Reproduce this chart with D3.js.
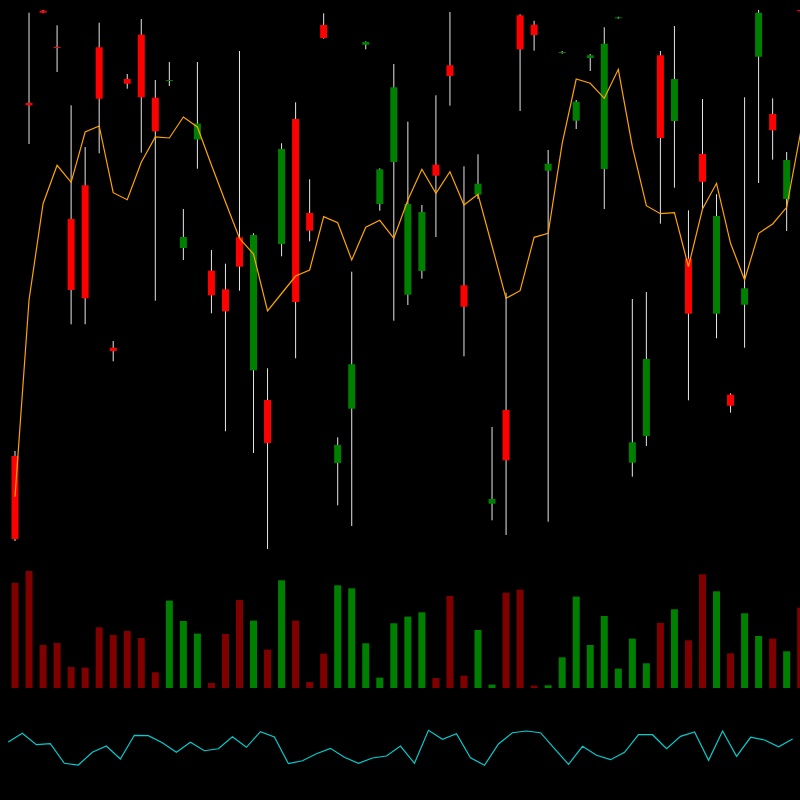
<!DOCTYPE html>
<html>
<head>
<meta charset="utf-8">
<script src="https://cdn.jsdelivr.net/npm/d3@7"></script>
<style>
html,body{margin:0;padding:0;background:#000;}
svg{display:block;}
</style>
</head>
<body>
<svg id="chart" width="800" height="800"></svg>
<script>
// ---- data ----
const opens  = [109.4,144.7,153.93,150.3,133.1,136.47,150.27,120.23,147.1,151.53,145.23,146.9,130.2,141.05,127.93,126.07,131.27,117.97,115.0,130.6,143.1,133.7,152.5,108.7,114.13,150.53,134.6,138.8,125.53,127.9,138.53,148.47,126.47,135.53,104.63,114.0,153.47,152.53,137.93,149.73,142.93,149.2,138.1,153.23,108.73,111.4,149.47,142.9,129.13,139.6,123.63,115.53,124.53,149.33,143.6,135.1,154.0];
const highs  = [109.9,153.73,154.0,152.47,144.47,140.3,152.73,120.9,147.6,153.1,147.0,148.8,134.1,148.8,130.0,128.63,149.9,131.67,118.17,140.67,144.77,137.07,153.67,111.27,127.83,150.87,138.17,148.6,142.83,134.5,145.47,153.8,138.37,139.57,112.3,125.73,153.57,152.93,140.0,149.9,145.0,149.6,152.27,153.33,125.1,125.8,149.9,152.4,133.97,145.1,135.57,115.67,145.27,154.0,145.17,139.8,154.05];
const lows   = [100.9,140.6,153.67,147.8,122.57,122.57,139.67,118.87,146.13,139.73,124.93,146.4,129.0,138.13,123.67,111.87,125.93,109.7,100.1,129.37,119.17,130.87,151.13,104.47,102.4,150.07,133.93,122.93,124.5,127.13,131.3,144.43,119.37,135.1,102.97,101.5,143.9,149.93,102.83,149.63,142.1,147.9,134.1,153.13,107.33,110.4,132.63,136.23,114.97,134.0,121.17,113.73,120.23,136.7,139.03,131.9,153.85];
const closes = [101.1,144.47,153.73,150.2,126.0,125.17,145.13,119.9,146.63,145.27,141.87,147.0,131.3,142.65,125.47,123.87,128.33,131.5,110.7,140.1,124.8,131.93,151.2,110.5,118.57,150.8,138.07,146.27,134.6,133.8,137.43,147.4,124.33,136.63,105.1,108.97,150.07,151.5,138.63,149.8,144.83,149.47,150.63,153.27,110.77,119.1,141.2,147.1,123.63,136.83,133.4,114.43,126.17,153.73,141.97,139.0,153.87];
const volumes = [1050,1170,430,450,210,204,607,530,570,500,157,874,670,544,50,540,880,674,384,1077,674,60,344,1027,997,447,104,647,714,757,100,920,124,580,34,954,984,24,27,307,914,430,720,194,494,247,650,787,477,1137,967,347,747,520,494,367,804];
const maLine = [105.33,125.0,134.63,138.47,136.77,141.8,142.4,135.73,135.03,138.77,141.3,141.2,143.3,142.3,138.5,134.8,131.17,129.6,123.9,125.65,127.4,128.0,133.33,132.73,129.0,132.27,132.97,131.17,135.0,138.07,135.67,137.83,134.5,135.57,130.4,125.17,125.93,131.27,131.67,140.67,147.1,146.67,145.17,148.07,140.33,134.43,133.63,133.73,128.33,134.1,136.67,130.67,127.0,131.67,132.6,134.27,141.83];
const oscLine = [60.0,70.9,56.6,57.9,33.4,31.25,47.1,55.0,38.75,68.4,67.9,59.1,47.1,59.6,49.1,51.6,66.6,53.4,72.9,66.25,32.9,36.6,45.4,52.1,40.9,33.4,40.0,42.5,55.0,33.4,74.6,63.4,70.4,40.4,30.9,57.5,71.6,73.75,71.6,51.6,32.1,54.6,43.4,37.9,47.1,69.1,69.1,51.6,67.1,72.5,37.1,73.75,42.1,65.9,62.5,54.1,63.75];

const n = opens.length;
const idx = d3.range(n);

const svg = d3.select("#chart");
svg.append("rect").attr("width",800).attr("height",800).attr("fill","#000");

const x = d3.scaleLinear().domain([0, n-1]).range([15, 800.7]);
const xOsc = d3.scaleLinear().domain([0, n-1]).range([8.3, 792.6]);
const y = d3.scaleLinear().domain([100, 154]).range([550, 10]);
const yVol = d3.scaleLinear().domain([0, 1000]).range([688, 588]);
const yOsc = d3.scaleLinear().domain([0, 100]).range([790, 710]);

const up = i => closes[i] >= opens[i];
const bodyW = 7;

// wicks
svg.append("g").selectAll("line").data(idx).join("line")
  .attr("x1", i => x(i)).attr("x2", i => x(i))
  .attr("y1", i => y(highs[i])).attr("y2", i => y(lows[i]))
  .attr("stroke", "#e6e6e6").attr("stroke-width", 1);

// bodies
svg.append("g").selectAll("rect").data(idx).join("rect")
  .attr("x", i => x(i) - bodyW/2)
  .attr("width", bodyW)
  .attr("y", i => y(Math.max(opens[i], closes[i])))
  .attr("height", i => Math.max(1, Math.abs(y(opens[i]) - y(closes[i]))))
  .attr("fill", i => up(i) ? "#008000" : "#ff0000");

// moving average line
svg.append("path").datum(idx)
  .attr("fill","none").attr("stroke","#ffa500").attr("stroke-width",1.2)
  .attr("d", d3.line().x(i => x(i)).y(i => y(maLine[i])));

// volume
svg.append("g").selectAll("rect").data(idx).join("rect")
  .attr("x", i => x(i) - bodyW/2)
  .attr("width", bodyW)
  .attr("y", i => yVol(volumes[i]))
  .attr("height", i => yVol(0) - yVol(volumes[i]))
  .attr("fill", i => up(i) ? "#008000" : "#800000");

// oscillator
svg.append("path").datum(idx)
  .attr("fill","none").attr("stroke","#00ced1").attr("stroke-width",1.2)
  .attr("d", d3.line().x(i => xOsc(i)).y(i => yOsc(oscLine[i])));
</script>
</body>
</html>
